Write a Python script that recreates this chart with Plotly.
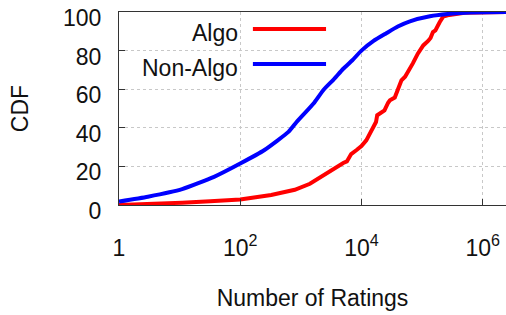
import plotly.graph_objects as go

# Non-Algo CDF (number of ratings, percent)
nonalgo_ratings = [1, 3, 11, 37, 100, 251, 631, 851, 1622, 2344, 3467, 5012, 7079,
                   10000, 15849, 25704, 39811, 63096, 134896, 288403, 630957, 2511886]
nonalgo_cdf = [1.8, 4.3, 8.2, 14.6, 21.5, 28.5, 38.0, 43.0, 52.6, 59.5, 65.0, 70.6, 75.0,
               80.0, 85.0, 89.0, 92.5, 95.2, 97.8, 99.1, 99.8, 100.0]

# Algo CDF
algo_ratings = [1, 3, 11, 32, 100, 324, 661, 794, 1413, 2239, 3162, 4169, 5012, 5754,
                6761, 8318, 10000, 12023, 13804, 15849, 17378, 18197, 20893, 23988,
                27542, 29512, 35481, 39811, 45709, 52481, 58884, 70795, 85114, 104713,
                125893, 138038, 151356, 165959, 194984, 223872, 281838, 354813, 501187,
                2511886]
algo_cdf = [0.0, 0.4, 1.2, 2.0, 2.9, 5.2, 7.3, 7.9, 11.0, 15.0, 18.4, 20.5, 21.8, 22.6,
            26.4, 28.5, 30.5, 33.5, 37.0, 40.0, 43.0, 46.5, 47.8, 49.0,
            53.0, 54.3, 55.7, 60.0, 64.6, 66.5, 68.9, 73.5, 78.4, 82.7,
            85.0, 86.5, 89.6, 90.5, 94.7, 97.7, 98.5, 99.0, 99.6,
            100.0]

x_tickvals = [1, 100, 10000, 1000000]
x_ticktext = ["1", "10<sup>2</sup>", "10<sup>4</sup>", "10<sup>6</sup>"]
y_tickvals = [0, 20, 40, 60, 80, 100]

FONT = "Liberation Sans, Arial, Helvetica, sans-serif"
RED = "#ff0000"
BLUE = "#0000ff"

fig = go.Figure()
fig.add_trace(go.Scatter(x=algo_ratings, y=algo_cdf, mode="lines", name="Algo",
                         line=dict(color=RED, width=4)))
fig.add_trace(go.Scatter(x=nonalgo_ratings, y=nonalgo_cdf, mode="lines", name="Non-Algo",
                         line=dict(color=BLUE, width=4, shape="spline", smoothing=0.5)))

fig.update_layout(
    width=506, height=315,
    margin=dict(l=119, r=0, t=12, b=110),
    paper_bgcolor="white", plot_bgcolor="white",
    showlegend=False,
    font=dict(family=FONT, size=23, color="#111"),
    xaxis=dict(
        type="log", range=[0, 6.385],
        tickvals=x_tickvals, ticktext=x_ticktext,
        ticks="inside", ticklen=6, tickcolor="#333",
        showline=True, linecolor="#333", linewidth=1, mirror=True,
        showgrid=True, gridcolor="#c8c8c8", griddash="dot", gridwidth=1,
        zeroline=False,
        ticklabelstandoff=22,
        title=dict(text="Number of Ratings", font=dict(size=23), standoff=30),
    ),
    yaxis=dict(
        range=[0, 100.01],
        tickvals=y_tickvals,
        ticks="inside", ticklen=6, tickcolor="#333",
        showline=True, linecolor="#333", linewidth=1, mirror=True,
        showgrid=True, gridcolor="#c8c8c8", griddash="dot", gridwidth=1,
        zeroline=False,
        ticklabelstandoff=12,
        ticklabelshift=6,
        ticklabeloverflow="allow",
        title=dict(text="CDF", font=dict(size=23), standoff=27),
    ),
)

# legend area (white box hiding grid), text left of line samples
fig.add_shape(type="rect", xref="x domain", yref="y domain",
              x0=0, x1=0.5625, y0=0.62, y1=1,
              fillcolor="white", line=dict(width=0), layer="below")
for label, color, ypos in [("Algo", RED, 0.912), ("Non-Algo", BLUE, 0.731)]:
    fig.add_shape(type="line", xref="x domain", yref="y domain",
                  x0=0.346, x1=0.535, y0=ypos, y1=ypos,
                  line=dict(color=color, width=4))
    fig.add_annotation(xref="x domain", yref="y domain", x=0.3127, y=ypos - 0.02,
                       text=label, showarrow=False, xanchor="right", yanchor="middle",
                       font=dict(size=23, family=FONT, color="#111"))

fig.write_html("out.html", config={"displayModeBar": False},
               post_script="document.body.style.margin='0';")
